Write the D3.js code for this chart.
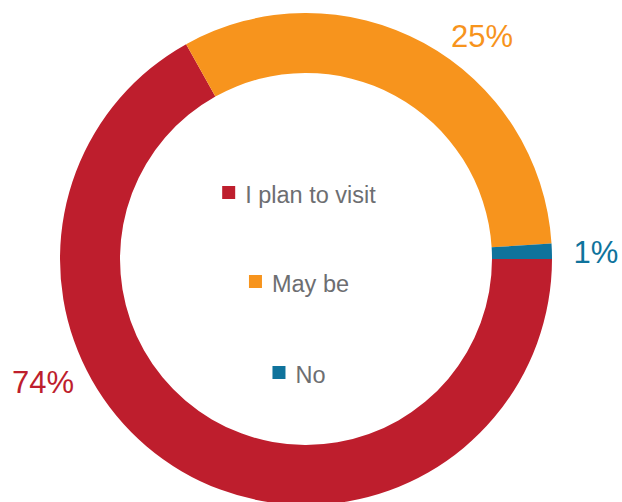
<!DOCTYPE html>
<meta charset="utf-8">
<head>
<style>
body { margin: 0; background: #fff; }
svg { display: block; font-family: "Liberation Sans", Arial, Helvetica, sans-serif; }
.legend text { fill: #6d6e71; font-size: 23.5px; }
.pct { font-size: 31px; text-anchor: middle; }
</style>
<script src="https://d3js.org/d3.v7.min.js"></script>
</head>
<body>
<script>

// data
var categories = ["I plan to visit", "May be", "No"];
var sliceValues = [66.9, 32.1, 1.0];       // share of the ring as drawn
var pctLabels = ["74%", "25%", "1%"];      // printed labels
var colors = ["#be1e2d", "#f7941d", "#0f739c"];

// layout
var width = 622, height = 502;
var cx = 306, cy = 259;
var outerR = 246, innerR = 186;
var labelPos = [[43, 393], [482, 47], [596, 263]];
var legendX = 299, legendY = [203, 292, 383], box = 13, gap = 10;

var svg = d3.select("body").append("svg")
    .attr("width", width)
    .attr("height", height);

var pie = d3.pie()
    .sort(null)
    .startAngle(Math.PI / 2)
    .endAngle(Math.PI / 2 + 2 * Math.PI);

var arc = d3.arc().innerRadius(innerR).outerRadius(outerR);

var color = d3.scaleOrdinal().domain(categories).range(colors);

var ring = svg.append("g").attr("transform", "translate(" + cx + "," + cy + ")");

ring.selectAll("path")
    .data(pie(sliceValues))
    .enter().append("path")
    .attr("d", arc)
    .attr("fill", function(d, i) { return color(categories[i]); });

// percentage labels
svg.selectAll(".pct")
    .data(pctLabels)
    .enter().append("text")
    .attr("class", "pct")
    .attr("x", function(d, i) { return labelPos[i][0]; })
    .attr("y", function(d, i) { return labelPos[i][1]; })
    .attr("fill", function(d, i) { return color(categories[i]); })
    .text(function(d) { return d; });

// legend in the middle, each row centred
var legend = svg.append("g").attr("class", "legend");

categories.forEach(function(c, i) {
  var g = legend.append("g");
  var t = g.append("text")
      .attr("x", box + gap)
      .attr("y", 0)
      .text(c);
  g.append("rect")
      .attr("x", 0)
      .attr("y", -17)
      .attr("width", box)
      .attr("height", box)
      .attr("fill", color(c));
  var w = box + gap + t.node().getComputedTextLength();
  g.attr("transform", "translate(" + (legendX - w / 2) + "," + legendY[i] + ")");
});

</script>
</body>
</html>
